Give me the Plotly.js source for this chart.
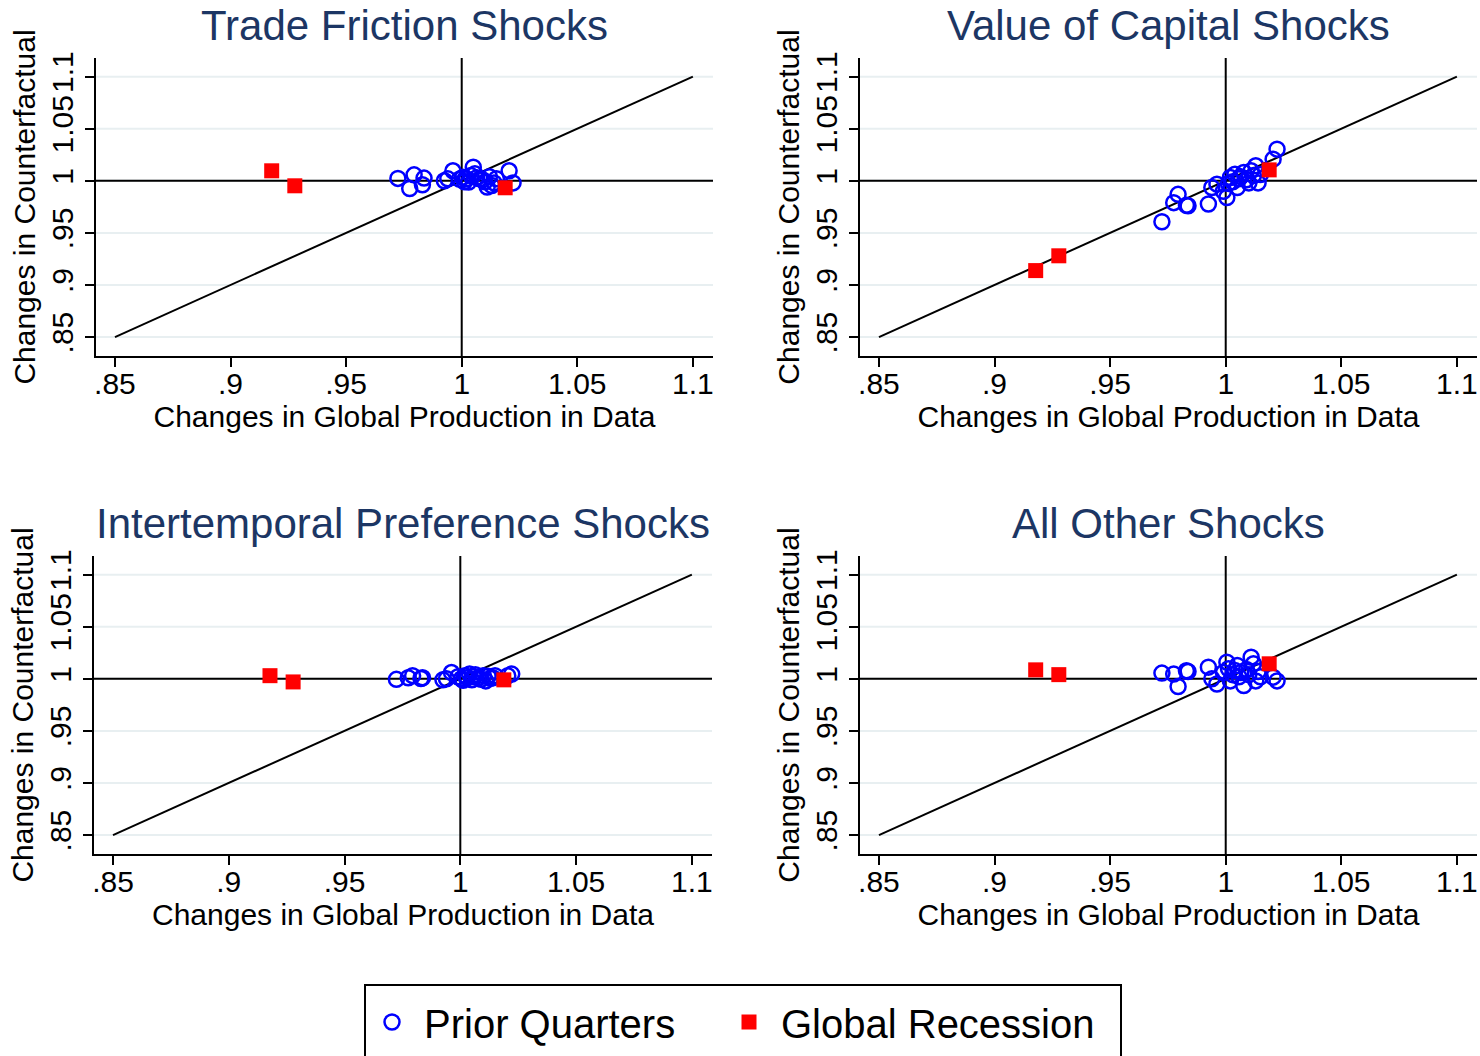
<!DOCTYPE html>
<html>
<head>
<meta charset="utf-8">
<script src="https://cdn.plot.ly/plotly-3.0.1.min.js"></script>
<style>html,body{margin:0;padding:0;background:#fff;}#chart{width:1480px;height:1056px;}</style>
</head>
<body>
<div id="chart"></div>
<script>
// ---- Data ----
const panelTitles = ["Trade Friction Shocks", "Value of Capital Shocks", "Intertemporal Preference Shocks", "All Other Shocks"];
const tickVals = [0.85, 0.9, 0.95, 1, 1.05, 1.1];
const tickLabels = [".85", ".9", ".95", "1", "1.05", "1.1"];
const diagX = [0.85, 1.1];
const diagY = [0.85, 1.1];

// Prior quarters: changes in global production in data (x)
const priorX = [0.9724, 0.9775, 0.9794, 0.9830, 0.9837, 0.9925, 0.9940, 0.9962, 0.9990, 1.0005,
                1.0012, 1.0020, 1.0030, 1.0040, 1.0050, 1.0057, 1.0065, 1.0078, 1.0090, 1.0100,
                1.0110, 1.0120, 1.0130, 1.0140, 1.0150, 1.0205, 1.0222];
// Counterfactual (y) for each panel
const priorTrade = [1.0023, 0.9926, 1.0057, 0.9962, 1.0026, 1.0000, 1.0019, 1.0096, 1.0016, 1.0035,
                    0.9990, 1.0020, 0.9988, 1.0050, 1.0130, 1.0067, 1.0030, 1.0019, 1.0010, 0.9990,
                    0.9940, 1.0040, 0.9955, 0.9980, 1.0020, 1.0096, 0.9980];
const priorCapital = [0.9607, 0.9790, 0.9870, 0.9765, 0.9760, 0.9777, 0.9936, 0.9968, 0.9900, 0.9840,
                      0.9975, 1.0032, 0.9990, 1.0064, 0.9936, 1.0020, 1.0040, 1.0080, 1.0010, 0.9980,
                      1.0096, 1.0050, 1.0144, 0.9980, 1.0060, 1.0208, 1.0304];
const priorPref = [0.9995, 1.0010, 1.0030, 1.0003, 1.0010, 0.9990, 1.0000, 1.0060, 1.0020, 1.0000,
                   0.9985, 1.0030, 1.0010, 1.0045, 0.9990, 1.0020, 1.0040, 1.0010, 0.9995, 1.0030,
                   0.9980, 1.0025, 1.0005, 1.0010, 1.0030, 1.0030, 1.0045];
const priorOther = [1.0055, 1.0045, 0.9926, 1.0077, 1.0070, 1.0112, 1.0000, 0.9950, 1.0060, 1.0160,
                    1.0096, 0.9980, 1.0040, 1.0080, 1.0128, 1.0020, 1.0060, 0.9936, 1.0090, 1.0040,
                    1.0208, 1.0144, 0.9980, 1.0070, 1.0020, 1.0016, 0.9980];

// Global recession quarters
const recX = [0.9178, 0.9278, 1.0188];
const recTrade = [1.0096, 0.9952, 0.9933];
const recCapital = [0.9138, 0.9280, 1.0105];
const recPref = [1.0030, 0.9970, 0.9990];
const recOther = [1.0086, 1.0040, 1.0144];

const priorY = [priorTrade, priorCapital, priorPref, priorOther];
const recY = [recTrade, recCapital, recPref, recOther];

// ---- Layout geometry (pixels -> paper) ----
const W = 1480, H = 1056;
const FONT = "Liberation Sans, Arial, Helvetica, sans-serif";
const boxes = [
  {l: 96, r: 713, t: 58, b: 356},
  {l: 860, r: 1477, t: 58, b: 356},
  {l: 94, r: 712, t: 556, b: 854},
  {l: 860, r: 1477, t: 556, b: 854}
];
const titleY = [25, 523];

const legendCommon = {
  orientation: "h",
  y: 1 - 1022 / H, yanchor: "middle",
  xanchor: "left",
  font: {size: 40, family: FONT, color: "#000"},
  bgcolor: "rgba(0,0,0,0)",
  borderwidth: 0,
  itemwidth: 54
};

const traces = [];
const layout = {
  width: W, height: H,
  margin: {l: 0, r: 0, t: 0, b: 0},
  paper_bgcolor: "#ffffff",
  plot_bgcolor: "#ffffff",
  font: {family: FONT, color: "#000"},
  showlegend: true,
  legend: Object.assign({}, legendCommon, {x: 360 / W}),
  legend2: Object.assign({}, legendCommon, {x: 717 / W}),
  shapes: [],
  annotations: []
};

for (let i = 0; i < 4; i++) {
  const n = i === 0 ? "" : String(i + 1);
  const xa = "x" + n, ya = "y" + n;
  const bx = boxes[i];
  layout["xaxis" + n] = {
    domain: [bx.l / W, bx.r / W],
    range: [0.8418, 1.1087],
    anchor: ya,
    tickmode: "array", tickvals: tickVals, ticktext: tickLabels,
    ticks: "outside", ticklen: 9, tickwidth: 2, tickcolor: "#000",
    ticklabelstandoff: -9,
    showline: true, linewidth: 2, linecolor: "#000",
    showgrid: false, zeroline: false,
    tickfont: {size: 30, family: FONT, color: "#000"},
    title: {text: "Changes in Global Production in Data", font: {size: 30, family: FONT, color: "#000"}, standoff: 2}
  };
  layout["yaxis" + n] = {
    domain: [1 - bx.b / H, 1 - bx.t / H],
    range: [0.8318, 1.1179],
    anchor: xa,
    tickmode: "array", tickvals: tickVals, ticktext: tickLabels,
    tickangle: -90,
    ticks: "outside", ticklen: 9, tickwidth: 2, tickcolor: "#000",
    showline: true, linewidth: 2, linecolor: "#000",
    showgrid: false,
    zeroline: false,
    tickfont: {size: 30, family: FONT, color: "#000"},
    title: {text: "Changes in Counterfactual", font: {size: 30, family: FONT, color: "#000"}, standoff: 2}
  };
  // light horizontal grid at the y ticks (drawn first, below everything)
  tickVals.forEach(v => {
    layout.shapes.push({type: "line", xref: xa + " domain", yref: ya, x0: 0, x1: 1, y0: v, y1: v,
                        line: {color: "#e8eff1", width: 2}, layer: "below"});
  });
  // reference lines at 1
  layout.shapes.push({type: "line", xref: xa + " domain", yref: ya, x0: 0, x1: 1, y0: 1, y1: 1,
                      line: {color: "#000", width: 2}, layer: "below"});
  layout.shapes.push({type: "line", xref: xa, yref: ya + " domain", x0: 1, x1: 1, y0: 0, y1: 1,
                      line: {color: "#000", width: 2}, layer: "below"});
  // panel title
  layout.annotations.push({
    text: panelTitles[i], xref: "paper", yref: "paper",
    x: (bx.l + bx.r) / 2 / W, y: 1 - titleY[i < 2 ? 0 : 1] / H,
    xanchor: "center", yanchor: "middle", showarrow: false,
    font: {size: 42, family: FONT, color: "#1c3664"}
  });

  traces.push({
    type: "scatter", mode: "lines", x: diagX, y: diagY, xaxis: xa, yaxis: ya,
    line: {color: "#000", width: 2}, showlegend: false, hoverinfo: "skip"
  });
  traces.push({
    type: "scatter", mode: "markers", name: "Prior Quarters",
    x: priorX, y: priorY[i], xaxis: xa, yaxis: ya,
    marker: {symbol: "circle-open", size: 15, color: "#0000ff", line: {width: 2.5, color: "#0000ff"}},
    legend: "legend", legendgroup: "prior", showlegend: i === 0
  });
  traces.push({
    type: "scatter", mode: "markers", name: "Global Recession",
    x: recX, y: recY[i], xaxis: xa, yaxis: ya,
    marker: {symbol: "square", size: 15, color: "#ff0000", line: {width: 0}},
    legend: "legend2", legendgroup: "rec", showlegend: i === 0
  });
}

// legend frame (extends past the bottom edge as in the reference)
layout.shapes.push({type: "rect", xref: "paper", yref: "paper",
  x0: 365 / W, x1: 1121 / W, y0: -0.05, y1: 1 - 985 / H,
  line: {color: "#000", width: 2}, fillcolor: "rgba(0,0,0,0)"});

Plotly.newPlot("chart", traces, layout, {displayModeBar: false, staticPlot: true});
</script>
</body>
</html>
